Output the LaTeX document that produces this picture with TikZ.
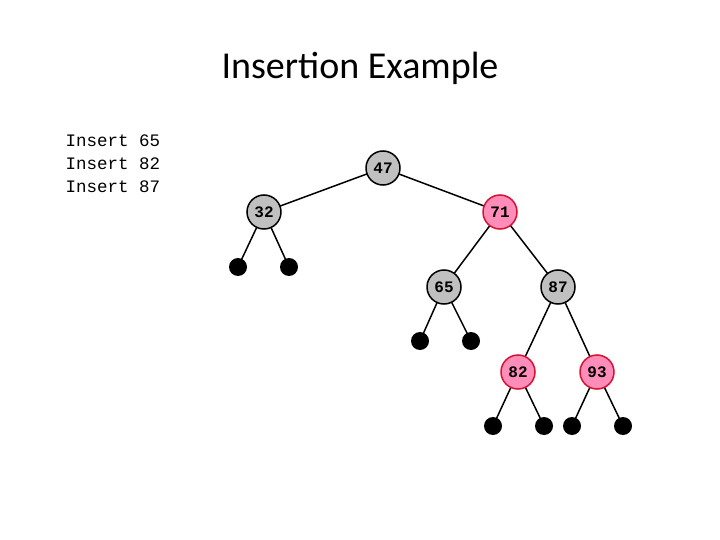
\documentclass[tikz,border=0pt]{standalone}
\usepackage{fontspec}
\setmainfont{Carlito}
\setmonofont{Liberation Mono}
\definecolor{gr}{RGB}{192,192,192}
\definecolor{pk}{RGB}{255,140,185}
\definecolor{rd}{RGB}{210,20,50}
\begin{document}
\begin{tikzpicture}[x=1pt,y=-1pt,
 nd/.style={circle,draw=black,line width=1.5pt,fill=gr,minimum size=34pt,inner sep=0pt,font=\ttfamily\bfseries\fontsize{16}{16}\selectfont},
 rn/.style={nd,fill=pk,draw=rd},
 lf/.style={circle,fill=black,minimum size=18pt,inner sep=0pt},
 ed/.style={line width=1.5pt}]
\useasboundingbox (0,0) rectangle (720,540);
\node at (360,68) {\fontsize{38}{38}\selectfont Insertion Example};
\node[anchor=north west,align=left,font=\ttfamily\fontsize{17.5}{23}\selectfont] (code) at (62,131) {Insert 65\\Insert 82\\Insert 87};
\draw[ed] (383,168) -- (264,212) (383,168) -- (500,212);
\draw[ed] (264,212) -- (238,267) (264,212) -- (289,267);
\draw[ed] (500,212) -- (444,287) (500,212) -- (558,287);
\draw[ed] (444,287) -- (420,341) (444,287) -- (471,341);
\draw[ed] (558,287) -- (518,372) (558,287) -- (597,372);
\draw[ed] (518,372) -- (493,426) (518,372) -- (544,426);
\draw[ed] (597,372) -- (572,426) (597,372) -- (623,426);
\node[nd] (n47) at (383,168) {47};
\node[nd] (n32) at (264,212) {32};
\node[rn] (n71) at (500,212) {71};
\node[nd] (n65) at (444,287) {65};
\node[nd] (n87) at (558,287) {87};
\node[rn] (n82) at (518,372) {82};
\node[rn] (n93) at (597,372) {93};
\foreach \x/\y in {238/267,289/267,420/341,471/341,493/426,544/426,572/426,623/426}
  \node[lf] at (\x,\y) {};
\end{tikzpicture}
\end{document}
